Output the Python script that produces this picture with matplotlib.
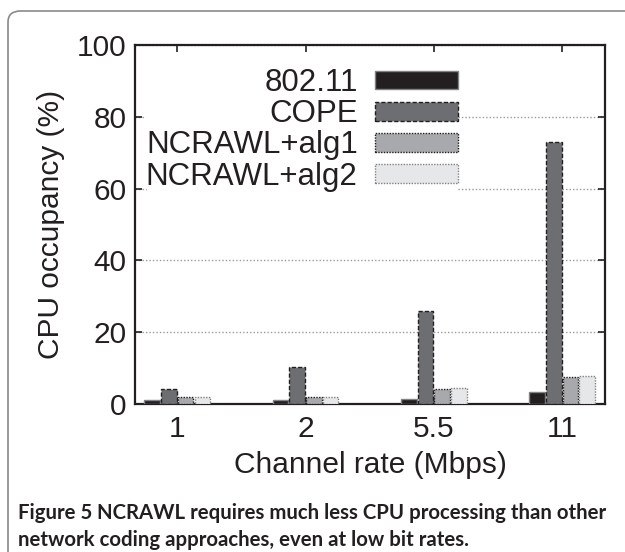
import matplotlib
matplotlib.use("Agg")
import matplotlib.pyplot as plt
from matplotlib.patches import FancyBboxPatch
import numpy as np

categories = ["1", "2", "5.5", "11"]
series_names = ["802.11", "COPE", "NCRAWL+alg1", "NCRAWL+alg2"]
v_80211 = [1.0, 1.0, 1.5, 3.3]
v_cope = [4.2, 10.2, 26.0, 73.0]
v_alg1 = [2.0, 2.0, 4.3, 7.6]
v_alg2 = [2.0, 2.0, 4.5, 7.9]
series_values = [v_80211, v_cope, v_alg1, v_alg2]

fills = ["#231f20", "#6d6e71", "#a7a9ac", "#e6e7e8"]
edges = ["#808285", "#231f20", "#231f20", "#808285"]
styles = ["solid", (0, (3, 1.5)), (0, (1, 1)), (0, (1, 1))]

plt.rcParams['font.family'] = ['Liberation Sans', 'DejaVu Sans']

fig = plt.figure(figsize=(6.25, 5.52), dpi=100)
frame = FancyBboxPatch((8/625, -0.2), 1.2, 1.2 - 11/552,
                       boxstyle="round,pad=0,rounding_size=0.02",
                       transform=fig.transFigure, fill=False,
                       edgecolor="#8a8a8a", linewidth=1.2)
fig.patches.append(frame)

ax = fig.add_axes([135/625, 1 - 404/552, 470/625, (404 - 45)/552])
x = np.arange(len(categories))
step = 0.130
width = 0.122
for i, (name, vals) in enumerate(zip(series_names, series_values)):
    ax.bar(x + (i - 1.5) * step, vals, width, color=fills[i],
           edgecolor=edges[i], linewidth=1.0, linestyle=styles[i],
           label=name, zorder=3)

ax.set_xlim(-0.33, 3.335)
ax.set_ylim(0, 100)
ax.set_yticks([0, 20, 40, 60, 80, 100])
ax.set_xticks(x)
ax.set_xticklabels(categories)
ax.tick_params(axis='both', direction='in', labelsize=21.5, length=5,
               width=1.2, top=True, right=True, colors="#231f20",
               pad=6)
ax.tick_params(axis='x', pad=8)
for s in ax.spines.values():
    s.set_linewidth(1.6)
    s.set_color("#231f20")
ax.yaxis.grid(True, linestyle=(0, (1, 1.5)), color="#9a9a9a", linewidth=1.0, zorder=0)
ax.set_axisbelow(True)
ax.set_ylabel("CPU occupancy (%)", fontsize=21.5, color="#231f20", labelpad=9)
ax.set_xlabel("Channel rate (Mbps)", fontsize=21.5, color="#231f20", labelpad=6)

leg = ax.legend(loc='upper right', bbox_to_anchor=((458 - 135) / 470, (404 - 68) / 359),
                frameon=True, fontsize=22.5, markerfirst=False,
                handlelength=2.66, handleheight=0.55, handletextpad=0.55,
                labelspacing=0.04, borderpad=0.0, borderaxespad=0)
leg.get_frame().set_facecolor("white")
leg.get_frame().set_edgecolor("none")
leg.get_frame().set_alpha(1)
for t in leg.get_texts():
    t.set_ha('right')
    t.set_color("#231f20")
leg.set_zorder(2.5)

cap_font = ['Lato', 'DejaVu Sans']
cap_size = 14.5
t1 = fig.text(18/625, 1 - 513/552, "Figure 5", fontsize=cap_size, fontweight='bold',
              family=cap_font, va='center', color="#231f20")
renderer = fig.canvas.get_renderer()
bb1 = t1.get_window_extent(renderer)
t2 = fig.text((bb1.x1 + 5) / 625, 1 - 513/552,
              "NCRAWL requires much less CPU processing than other",
              fontsize=cap_size, fontweight='bold', family=cap_font,
              va='center', color="#231f20")
bb2 = t2.get_window_extent(renderer)
scale = (607 - 18) / (bb2.x1 - 18)
cap_size *= scale
t1.set_fontsize(cap_size)
bb1 = t1.get_window_extent(renderer)
t2.set_fontsize(cap_size)
t2.set_x((bb1.x1 + 5) / 625)
fig.text(18/625, 1 - 540/552, "network coding approaches, even at low bit rates.",
         fontsize=cap_size, fontweight='bold', family=cap_font,
         va='center', color="#231f20")

fig.savefig("out.png", dpi=100)
